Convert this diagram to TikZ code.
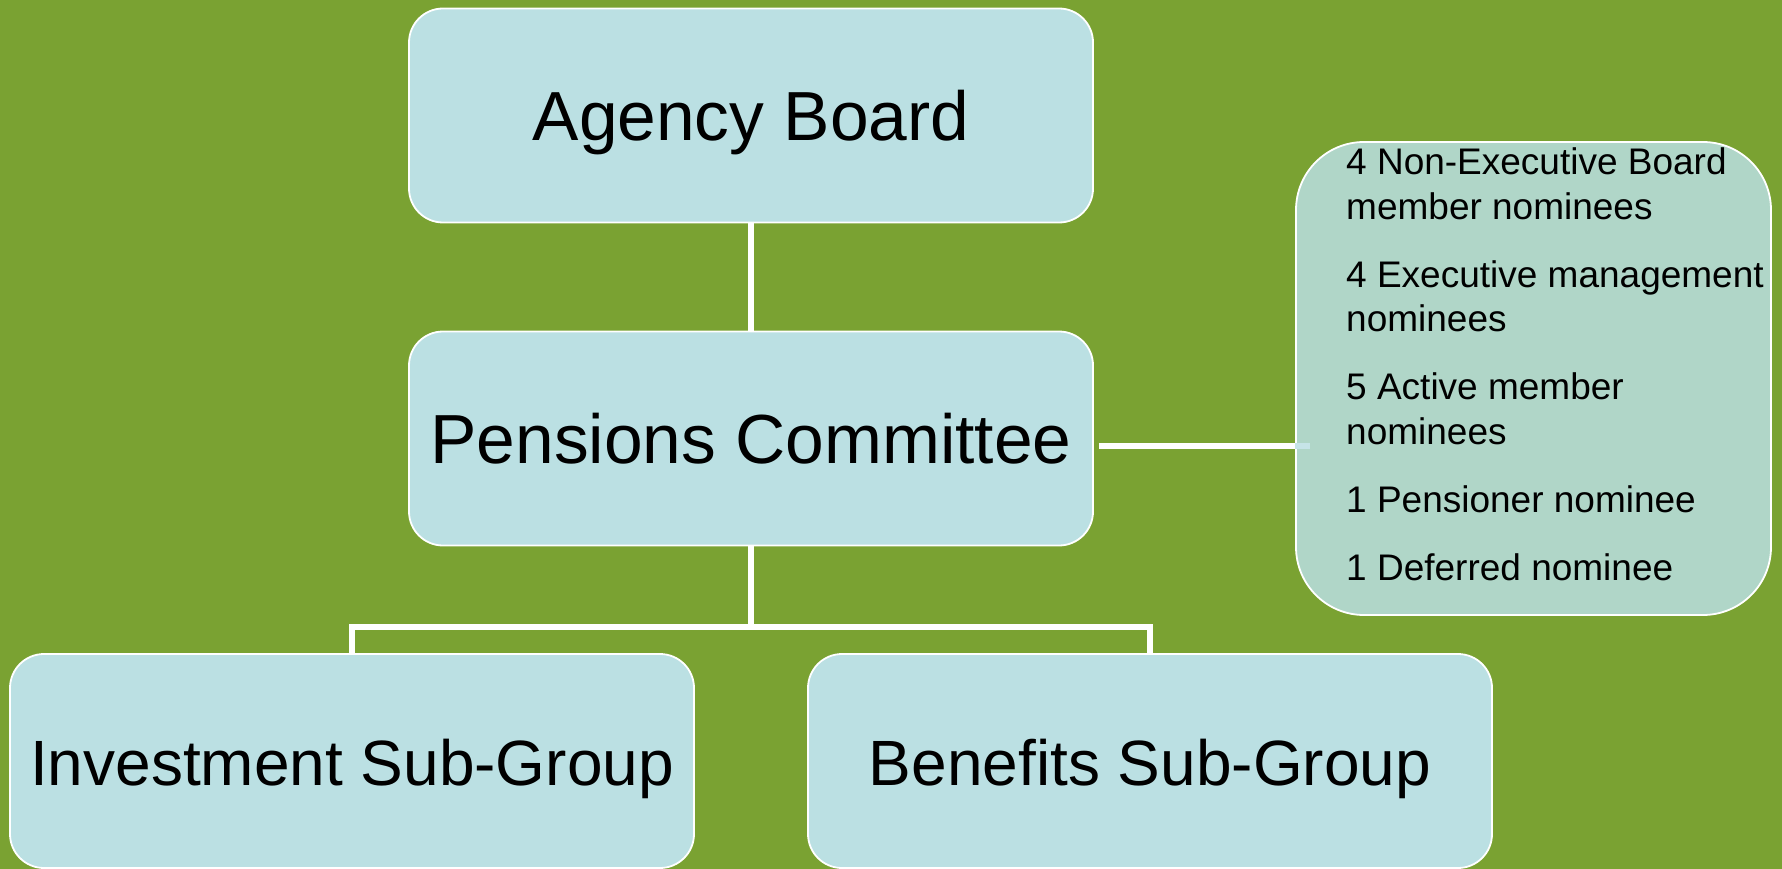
\documentclass[tikz,border=0pt]{standalone}
\usepackage{fontspec}
\setmainfont{Liberation Sans}
\definecolor{bggreen}{HTML}{7AA232}
\definecolor{boxblue}{HTML}{BBE0E3}
\definecolor{boxgreen}{HTML}{B0D6C8}
\definecolor{tipblue}{HTML}{C6E4E8}
\begin{document}
\begin{tikzpicture}[x=1pt,y=-1pt,
  orgbox/.style={draw=white, line width=1.8pt, fill=boxblue, rounded corners=34pt,
    minimum width=684pt, minimum height=214pt, inner sep=0pt,
    font=\fontsize{69.5}{80}\selectfont, text height=49.5pt, text depth=0pt},
  subbox/.style={orgbox, font=\fontsize{64}{75}\selectfont, text height=48pt},
  listbox/.style={draw=white, line width=1.8pt, fill=boxgreen, rounded corners=68pt,
    minimum width=475pt, minimum height=473pt, inner sep=0pt},
  conn/.style={draw=white, line width=5.5pt}
]
\fill[bggreen] (0,0) rectangle (1782,869);
\useasboundingbox (0,0) rectangle (1782,869);

\node[orgbox] (ab) at (751,115.5) {Agency Board};
\node[orgbox] (pc) at (751,438.5) {Pensions Committee};
\node[subbox] (inv) at (352,761) {Investment Sub-Group};
\node[subbox] (ben) at (1150,761) {Benefits Sub-Group};
\node[listbox] (lst) at (1533.5,378.5) {};
\node[anchor=north west, inner sep=0pt, align=left, font=\fontsize{37}{44.5}\selectfont]
  (items) at (1346,147.5) {4 Non-Executive Board\\member nominees\\[23.5pt]
  4 Executive management\\nominees\\[23.5pt]
  5 Active member\\nominees\\[23.5pt]
  1 Pensioner nominee\\[23.5pt]
  1 Deferred nominee};

\coordinate (bus) at (751,627);
\coordinate (hs) at ([xshift=5pt,yshift=-7.5pt]pc.east);
\draw[conn] (ab.south) -- (pc.north);
\draw[conn] (pc.south) -- (bus);
\draw[conn] (inv.north) |- (bus) -| (ben.north);
\draw[conn] (hs) -- (lst.west |- hs);
\draw[draw=tipblue, line width=5.5pt] (lst.west |- hs) -- ++(15,0);
\end{tikzpicture}
\end{document}
